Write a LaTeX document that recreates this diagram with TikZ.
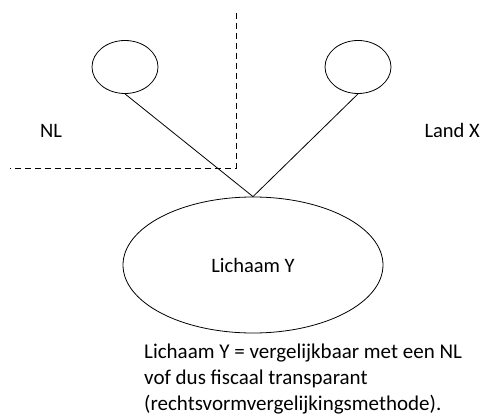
\documentclass[tikz,border=0pt]{standalone}
\usepackage{fontspec}
\setmainfont{Carlito}
\usetikzlibrary{shapes.geometric}
\begin{document}
\begin{tikzpicture}[x=1pt,y=-1pt,
  ov/.style={draw,ellipse,line width=0.8pt,inner sep=0pt},
  lab/.style={font=\fontsize{20.5}{24}\selectfont,inner sep=0pt},
  bd/.style={dashed,line width=0.8pt,dash pattern=on 6pt off 4pt},
  ln/.style={line width=0.8pt}]
\useasboundingbox (0,0) rectangle (482,417);
\node[ov,minimum width=66pt,minimum height=53pt] (a) at (125,67) {};
\node[ov,minimum width=66pt,minimum height=53pt] (b) at (358,67) {};
\node[ov,minimum width=260pt,minimum height=136pt,font=\fontsize{20.5}{24}\selectfont] (y) at (253,265) {Lichaam Y};
\coordinate (top) at (236,13);
\coordinate (corner) at (236,168);
\coordinate (left) at (10,168);
\draw[bd] (top) -- (corner) -- (left);
\draw[ln] (a.south) -- (y.north);
\draw[ln] (b.south) -- (y.north);
\node[lab,anchor=base west] (nl) at (40,138) {NL};
\node[lab,anchor=base east] (lx) at (480,138) {Land X};
\node[lab,anchor=base west,align=left,font=\fontsize{21}{26}\selectfont] (txt) at (144,410) {Lichaam Y = vergelijkbaar met een NL\\vof dus fiscaal transparant\\(rechtsvormvergelijkingsmethode).};
\end{tikzpicture}
\end{document}
